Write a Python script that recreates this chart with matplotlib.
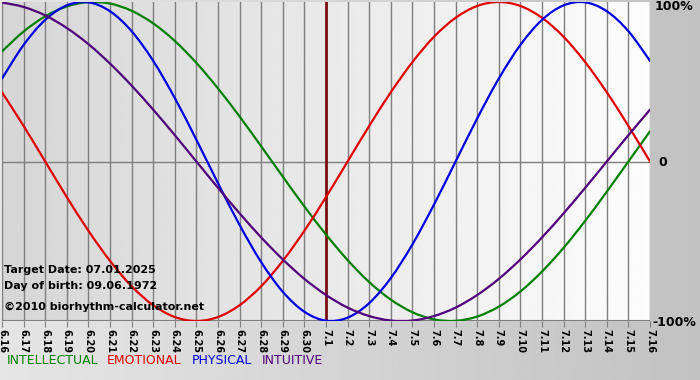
import numpy as np
import matplotlib
matplotlib.use("Agg")
import matplotlib.pyplot as plt
from matplotlib.path import Path
from matplotlib.patches import PathPatch

# days relative to target date (7.1)
days = list(range(-15, 16))
labels = ["6.%d" % d for d in range(16, 31)] + ["7.%d" % d for d in range(1, 17)]

physical = [0.520, 0.731, 0.888, 0.979, 0.998, 0.942, 0.817, 0.631, 0.398, 0.136,
            -0.136, -0.398, -0.631, -0.817, -0.942, -0.998, -0.979, -0.888, -0.731,
            -0.520, -0.270, 0.000, 0.270, 0.520, 0.731, 0.888, 0.979, 0.998, 0.942,
            0.817, 0.631]
emotional = [0.434, 0.223, 0.000, -0.223, -0.434, -0.623, -0.782, -0.901, -0.975,
             -1.000, -0.975, -0.901, -0.782, -0.623, -0.434, -0.223, 0.000, 0.223,
             0.434, 0.623, 0.782, 0.901, 0.975, 1.000, 0.975, 0.901, 0.782, 0.623,
             0.434, 0.223, 0.000]
intellectual = [0.690, 0.815, 0.910, 0.972, 0.999, 0.990, 0.945, 0.866, 0.756, 0.618,
                0.458, 0.282, 0.095, -0.095, -0.282, -0.458, -0.618, -0.756, -0.866,
                -0.945, -0.990, -0.999, -0.972, -0.910, -0.815, -0.690, -0.541,
                -0.372, -0.189, 0.000, 0.189]
intuitive = [0.997, 0.969, 0.916, 0.837, 0.736, 0.614, 0.476, 0.325, 0.165, 0.000,
             -0.165, -0.325, -0.476, -0.614, -0.736, -0.837, -0.916, -0.969, -0.997,
             -0.997, -0.969, -0.916, -0.837, -0.736, -0.614, -0.476, -0.325, -0.165,
             0.000, 0.165, 0.325]


def smooth_line(ax, xs, ys, color):
    # catmull-rom through the points, drawn as cubic bezier segments
    xs = np.asarray(xs, float)
    ys = np.asarray(ys, float)
    n = len(xs)
    verts = [(xs[0], ys[0])]
    codes = [Path.MOVETO]
    for i in range(n - 1):
        i0, i3 = max(i - 1, 0), min(i + 2, n - 1)
        c1 = (xs[i] + (xs[i + 1] - xs[i0]) / 6, ys[i] + (ys[i + 1] - ys[i0]) / 6)
        c2 = (xs[i + 1] - (xs[i3] - xs[i]) / 6, ys[i + 1] - (ys[i3] - ys[i]) / 6)
        verts += [c1, c2, (xs[i + 1], ys[i + 1])]
        codes += [Path.CURVE4] * 3
    ax.add_patch(PathPatch(Path(verts, codes), fill=False, edgecolor=color,
                           lw=1.6, zorder=3, capstyle="round"))


fig = plt.figure(figsize=(7, 3.8), dpi=100)

# figure background gradient
bg = fig.add_axes([0, 0, 1, 1])
grad = np.linspace(0.90, 0.76, 256).reshape(1, -1)
bg.imshow(grad, aspect="auto", cmap="gray", vmin=0, vmax=1, extent=[0, 1, 0, 1])
bg.axis("off")

ax = fig.add_axes([2 / 700, 59 / 380, 648 / 700, 319 / 380])
ax.set_xlim(-15, 15)
ax.set_ylim(-1, 1)

# plot area gradient
pg = np.linspace(0.84, 0.99, 256).reshape(1, -1)
ax.imshow(pg, aspect="auto", cmap="gray", vmin=0, vmax=1,
          extent=[-15, 15, -1, 1], zorder=0)

for d in days:
    ax.axvline(d, color="#7f7f7f", lw=1, zorder=1)
ax.axhline(0, color="#7f7f7f", lw=1, zorder=1)
ax.axhline(-1, color="#7f7f7f", lw=1.5, zorder=1)

ax.axvline(0, color="#7a1010", lw=2, zorder=2)

smooth_line(ax, days, intellectual, "#008000")
smooth_line(ax, days, emotional, "#e00000")
smooth_line(ax, days, physical, "#0000e0")
smooth_line(ax, days, intuitive, "#50007a")

for s in ax.spines.values():
    s.set_visible(False)
ax.set_yticks([])
ax.set_xticks(days)
ax.set_xticklabels(labels, rotation=270, fontsize=7, fontweight="bold")
ax.tick_params(axis="x", length=4, color="#7f7f7f", pad=2)

ax.text(-14.9, -0.70, "Target Date: 07.01.2025", fontsize=8, fontweight="bold", zorder=4)
ax.text(-14.9, -0.80, "Day of birth: 09.06.1972", fontsize=8, fontweight="bold", zorder=4)
ax.text(-14.9, -0.93, "\u00a92010 biorhythm-calculator.net", fontsize=8,
        fontweight="bold", zorder=4)

fig.text(655 / 700, 1 - 7 / 380, "100%", fontsize=9, fontweight="bold", va="center")
fig.text(658 / 700, 1 - 162 / 380, "0", fontsize=9, fontweight="bold", va="center")
fig.text(652 / 700, 1 - 322 / 380, "-100%", fontsize=9, fontweight="bold", va="center")

ly = 1 - 361 / 380
fig.text(7 / 700, ly, "INTELLECTUAL", color="#008000", fontsize=9, va="center")
fig.text(107 / 700, ly, "EMOTIONAL", color="#e00000", fontsize=9, va="center")
fig.text(192 / 700, ly, "PHYSICAL", color="#0000e0", fontsize=9, va="center")
fig.text(262 / 700, ly, "INTUITIVE", color="#50007a", fontsize=9, va="center")

fig.savefig("out.png", dpi=100)
